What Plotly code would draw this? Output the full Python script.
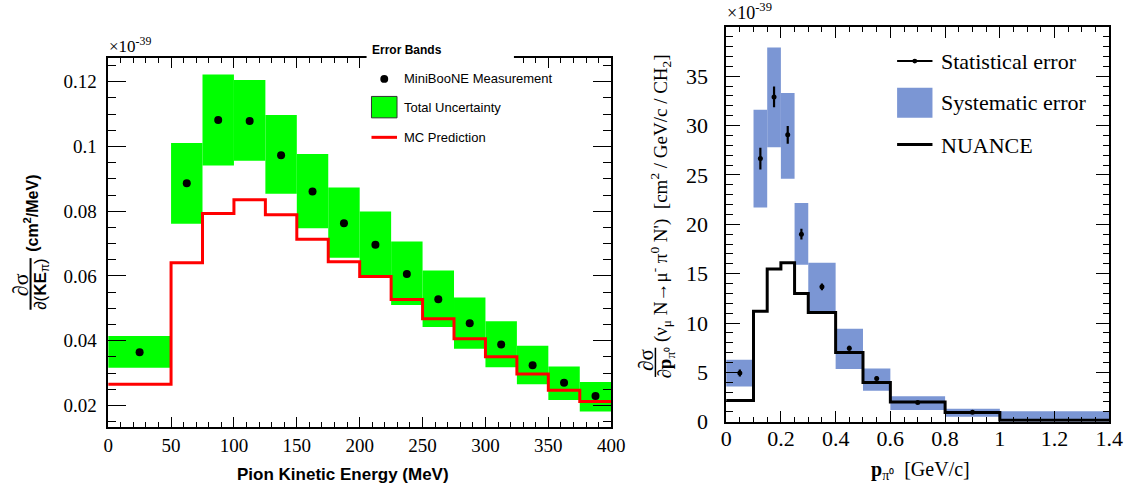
import plotly.graph_objects as go

W, H = 1141, 500

# ---------------- data: left panel (pion kinetic energy) ----------------
ke_edges = [0, 50, 75, 100, 125, 150, 175, 200, 225, 250, 275, 300, 325, 350, 375, 400]
ke_meas = [0.0364, 0.0886, 0.1082, 0.1079, 0.0973, 0.0861, 0.0763, 0.0696,
           0.0606, 0.0528, 0.0454, 0.0388, 0.0324, 0.0270, 0.0229]
ke_band_hi = [0.0414, 0.1011, 0.1222, 0.1205, 0.1097, 0.0977, 0.0873, 0.0799,
              0.0706, 0.0617, 0.0533, 0.0460, 0.0384, 0.0320, 0.0272]
ke_band_lo = [0.0316, 0.0761, 0.0941, 0.0956, 0.0854, 0.0747, 0.0656, 0.0601,
              0.0510, 0.0442, 0.0375, 0.0318, 0.0265, 0.0217, 0.0181]
ke_mc = [0.0265, 0.0641, 0.0793, 0.0835, 0.0789, 0.0713, 0.0644, 0.0598,
         0.0527, 0.0468, 0.0406, 0.0350, 0.0297, 0.0247, 0.0212]
ke_ytickvals = [0.02, 0.04, 0.06, 0.08, 0.1, 0.12]
ke_yticktext = ["0.02", "0.04", "0.06", "0.08", "0.1", "0.12"]
ke_xtickvals = [0, 50, 100, 150, 200, 250, 300, 350, 400]
ke_xticktext = ["0", "50", "100", "150", "200", "250", "300", "350", "400"]

# ---------------- data: right panel (pi0 momentum) ----------------
p_edges = [0, 0.1, 0.15, 0.2, 0.25, 0.3, 0.4, 0.5, 0.6, 0.8, 1.0, 1.4]
p_meas_x = [0.05, 0.125, 0.175, 0.225, 0.275, 0.35, 0.45, 0.55, 0.7, 0.9]
p_meas = [4.94, 26.65, 32.9, 29.06, 19.0, 13.66, 7.44, 4.38, 1.95, 0.95]
p_stat = [0.35, 1.1, 1.05, 0.9, 0.55, 0.35, 0.25, 0.2, 0.12, 0.12]
p_sys_hi = [6.29, 31.6, 37.9, 33.3, 22.15, 16.1, 9.42, 5.4, 2.57, 1.32, 1.05]
p_sys_lo = [3.56, 21.7, 27.8, 24.6, 15.9, 11.06, 5.33, 3.13, 1.19, 0.5, 0.0]
p_nuance = [2.14, 11.2, 15.47, 16.1, 13.0, 11.06, 7.0, 3.98, 2.0, 0.93, 0.15]
p_xtickvals = [0, 0.2, 0.4, 0.6, 0.8, 1.0, 1.2, 1.4]
p_xticktext = ["0", "0.2", "0.4", "0.6", "0.8", "1", "1.2", "1.4"]
p_ytickvals = [0, 5, 10, 15, 20, 25, 30, 35]
p_yticktext = ["0", "5", "10", "15", "20", "25", "30", "35"]


def px(x):
    return x / W


def py(y):
    return 1 - y / H


def centers(e):
    return [(a + b) / 2 for a, b in zip(e[:-1], e[1:])]


def widths(e):
    return [b - a for a, b in zip(e[:-1], e[1:])]


GREEN = "#00ff00"
RED = "#ff0000"
BLUE = "#7b96d4"
SERIF = "Liberation Serif, Times New Roman, serif"
SANS = "Liberation Sans, Arial, sans-serif"

fig = go.Figure()

# left: total uncertainty band
fig.add_trace(go.Bar(
    x=centers(ke_edges), width=widths(ke_edges), base=ke_band_lo,
    y=[h - l for h, l in zip(ke_band_hi, ke_band_lo)],
    marker=dict(color=GREEN, line=dict(width=0)),
    xaxis="x", yaxis="y", showlegend=False, hoverinfo="skip"))
# left: MC prediction
fig.add_trace(go.Scatter(
    x=ke_edges, y=ke_mc + [ke_mc[-1]], mode="lines", line_shape="hv",
    line=dict(color=RED, width=3), xaxis="x", yaxis="y", showlegend=False))
# left: measurement
fig.add_trace(go.Scatter(
    x=[25] + centers(ke_edges)[1:], y=ke_meas, mode="markers",
    marker=dict(color="black", size=8), xaxis="x", yaxis="y", showlegend=False))

# right: systematic band
fig.add_trace(go.Bar(
    x=centers(p_edges), width=widths(p_edges), base=p_sys_lo,
    y=[h - l for h, l in zip(p_sys_hi, p_sys_lo)],
    marker=dict(color=BLUE, line=dict(width=0)),
    xaxis="x2", yaxis="y2", showlegend=False, hoverinfo="skip"))
# right: NUANCE
fig.add_trace(go.Scatter(
    x=p_edges, y=p_nuance + [p_nuance[-1]], mode="lines", line_shape="hv",
    line=dict(color="black", width=3), xaxis="x2", yaxis="y2", showlegend=False))
# right: data with stat errors
fig.add_trace(go.Scatter(
    x=p_meas_x, y=p_meas, mode="markers",
    marker=dict(color="black", size=5),
    error_y=dict(type="data", array=p_stat, color="black", thickness=2.2, width=0),
    xaxis="x2", yaxis="y2", showlegend=False))


def axis(size, **kw):
    d = dict(showgrid=False, zeroline=False, showline=True, linecolor="black",
             linewidth=1.5, mirror="ticks", ticks="inside", tickcolor="black",
             tickwidth=1, tickfont=dict(family=SERIF, color="black", size=size))
    d.update(kw)
    return d


fig.update_layout(
    width=W, height=H, margin=dict(l=0, r=0, t=0, b=0),
    paper_bgcolor="white", plot_bgcolor="white", barmode="overlay",
    font=dict(family=SERIF, color="black"),
    xaxis=axis(19, domain=[px(104), px(616)], range=[0, 400], anchor="y",
               tickvals=ke_xtickvals, ticktext=ke_xticktext, ticklen=10,
               minor=dict(dtick=10, tick0=0, ticks="inside", ticklen=5, tickcolor="black", showgrid=False),
               ticklabelstandoff=1),
    yaxis=axis(19, domain=[py(438), py(60)], range=[0.01344, 0.1272], anchor="x",
               tickvals=ke_yticktext and ke_ytickvals, ticktext=ke_yticktext, ticklen=18,
               minor=dict(dtick=0.005, tick0=0, ticks="inside", ticklen=8, tickcolor="black", showgrid=False),
               ticklabelstandoff=6),
    xaxis2=axis(22, domain=[px(733), px(1123)], range=[0, 1.4], anchor="y2",
                tickvals=p_xtickvals, ticktext=p_xticktext, ticklen=11,
                minor=dict(dtick=0.05, tick0=0, ticks="inside", ticklen=5, tickcolor="black", showgrid=False),
                ticklabelstandoff=-4),
    yaxis2=axis(22, domain=[py(433), py(28)], range=[0, 39.95], anchor="x2",
                tickvals=p_ytickvals, ticktext=p_yticktext, ticklen=14,
                minor=dict(dtick=1, tick0=0, ticks="inside", ticklen=7, tickcolor="black", showgrid=False),
                ticklabelstandoff=12),
)

shapes = []
ann = []


def text(x, y, s, size, family=SERIF, xanchor="center", yanchor="middle", angle=0):
    ann.append(dict(x=px(x), y=py(y), xref="paper", yref="paper", text=s, showarrow=False,
                    xanchor=xanchor, yanchor=yanchor, textangle=angle,
                    font=dict(family=family, size=size, color="black")))


# left legend box (white, covers the frame top)
shapes.append(dict(type="rect", xref="paper", yref="paper", x0=px(367), x1=px(517),
                   y0=py(155), y1=py(38), fillcolor="white", line=dict(width=0), layer="above"))
shapes.append(dict(type="circle", xref="paper", yref="paper", x0=px(381), x1=px(389),
                   y0=py(85), y1=py(77), fillcolor="black", line=dict(width=0), layer="above"))
shapes.append(dict(type="rect", xref="paper", yref="paper", x0=px(372), x1=px(398),
                   y0=py(121), y1=py(99), fillcolor=GREEN, line=dict(color="#333333", width=1), layer="above"))
shapes.append(dict(type="line", xref="paper", yref="paper", x0=px(372), x1=px(398),
                   y0=py(141), y1=py(141), line=dict(color=RED, width=3), layer="above"))
text(371, 51, "<b>Error Bands</b>", 12, SANS, xanchor="left")
text(403, 81, "MiniBooNE Measurement", 13, SANS, xanchor="left")
text(403, 110, "Total Uncertainty", 13, SANS, xanchor="left")
text(403, 141, "MC Prediction", 13, SANS, xanchor="left")

# right legend
shapes.append(dict(type="line", xref="paper", yref="paper", x0=px(907), x1=px(943),
                   y0=py(62.7), y1=py(62.7), line=dict(color="black", width=2), layer="above"))
shapes.append(dict(type="circle", xref="paper", yref="paper", x0=px(922.5), x1=px(927.5),
                   y0=py(65.2), y1=py(60.2), fillcolor="black", line=dict(width=0), layer="above"))
shapes.append(dict(type="rect", xref="paper", yref="paper", x0=px(907), x1=px(943),
                   y0=py(121), y1=py(90), fillcolor=BLUE, line=dict(width=0), layer="above"))
shapes.append(dict(type="line", xref="paper", yref="paper", x0=px(907), x1=px(943),
                   y0=py(148.3), y1=py(148.3), line=dict(color="black", width=3), layer="above"))
text(950, 63, "Statistical error", 22, SERIF, xanchor="left")
text(950, 105, "Systematic error", 22, SERIF, xanchor="left")
text(950, 149, "NUANCE", 22, SERIF, xanchor="left")

# exponent labels
text(103, 60, "×10<sup>-39</sup>", 17, SERIF, xanchor="left", yanchor="bottom")
text(732, 26, "×10<sup>-39</sup>", 18, SERIF, xanchor="left", yanchor="bottom")

# left axis titles
text(343, 487, "<b>Pion Kinetic Energy (MeV)</b>", 17, SANS)
text(15, 292, "∂σ", 22, SERIF, angle=-90)
shapes.append(dict(type="line", xref="paper", yref="paper", x0=px(25), x1=px(25),
                   y0=py(265), y1=py(318), line=dict(color="black", width=2)))
text(37, 291, "∂(<b>KE</b><sub>π</sub>)", 17, SANS, angle=-90)
text(26, 219, "<b>(cm<sup>2</sup>/MeV)</b>", 16, SANS, angle=-90)

# right axis titles
text(931, 483, "<b>p</b><sub>π⁰</sub>  [GeV/c]", 20, SERIF)
text(652, 370, "∂σ", 21, SERIF, angle=-90)
shapes.append(dict(type="line", xref="paper", yref="paper", x0=px(661), x1=px(661),
                   y0=py(357), y1=py(387), line=dict(color="black", width=1.5)))
text(672, 372, "∂<b>p</b><sub>π⁰</sub>", 19, SERIF, angle=-90)
text(666, 203, "(ν<sub>μ</sub> N→μ<sup>-</sup> π<sup>0</sup> N')  [cm<sup>2</sup> / GeV/c / CH<sub>2</sub>]",
     19, SERIF, angle=-90)

fig.update_layout(shapes=shapes, annotations=ann)
fig.write_html("out.html", config={"displayModeBar": False},
               post_script="document.body.style.margin='0';document.body.style.overflow='hidden';")
